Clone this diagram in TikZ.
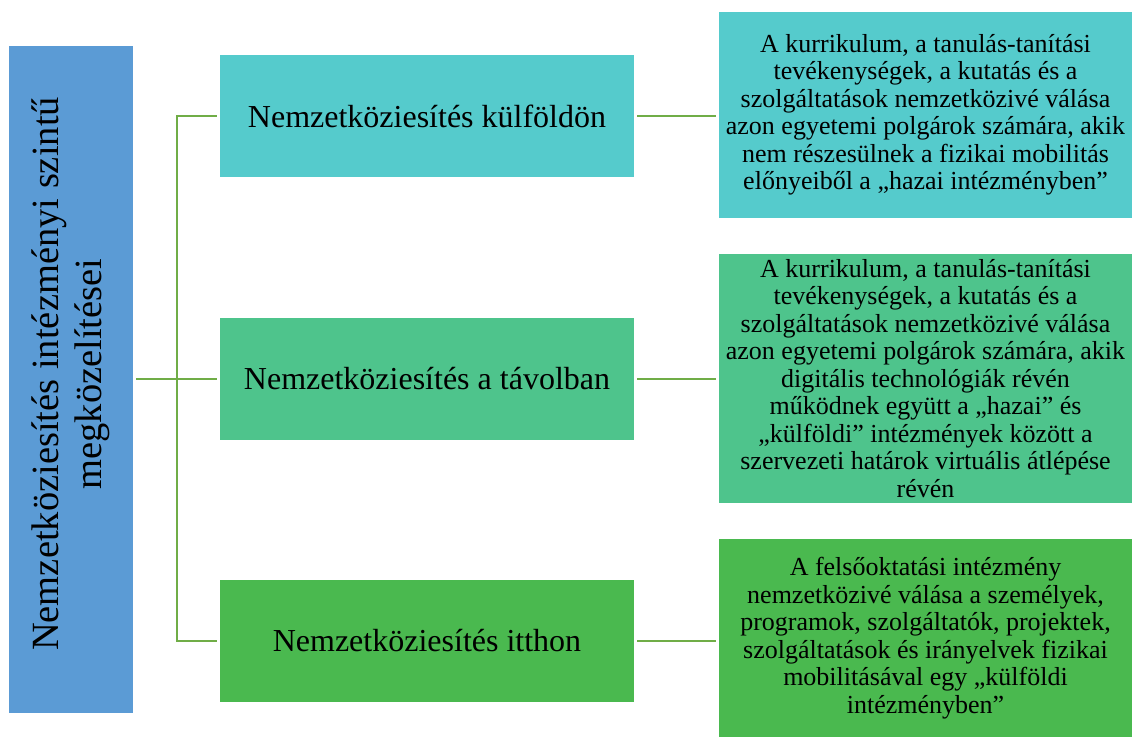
\documentclass[tikz,border=0pt]{standalone}
\usepackage{fontspec}
\setmainfont{Liberation Serif}
\begin{document}
\begin{tikzpicture}[x=1pt,y=-1pt,
  box/.style={draw=none,inner sep=0pt,align=center,text=black},
  mid/.style={box,minimum width=414pt,minimum height=122pt,font=\fontsize{32}{36}\selectfont},
  desc/.style={box,minimum width=413pt,font=\fontsize{26}{27.5}\selectfont},
  link/.style={draw=linkgreen,line width=1.4pt},
  linkb/.style={draw=linkgreen,line width=2.6pt}]
\definecolor{blueb}{HTML}{5B9BD5}
\definecolor{teal1}{HTML}{55CBCC}
\definecolor{green2}{HTML}{4EC48C}
\definecolor{green3}{HTML}{4AB94F}
\definecolor{linkgreen}{HTML}{70AD47}
\useasboundingbox (0,0) rectangle (1139,740);
\fill[white] (0,0) rectangle (1139,740);
\node[box,fill=blueb,minimum width=124pt,minimum height=667pt] (blue) at (71,379) {};
\node[rotate=90,align=center,font=\fontsize{38.5}{43}\selectfont] (bluet) at (71,374) {Nemzetköziesítés intézményi szintű\\megközelítései};
\node[mid,fill=teal1] (m1) at (427,116) {Nemzetköziesítés külföldön};
\node[mid,fill=green2] (m2) at (427,379) {Nemzetköziesítés a távolban};
\node[mid,fill=green3] (m3) at (427,641) {Nemzetköziesítés itthon};
\node[desc,fill=teal1,minimum height=206pt] (r1) at (925.5,115) {A kurrikulum, a tanulás-tanítási\\tevékenységek, a kutatás és a\\szolgáltatások nemzetközivé válása\\azon egyetemi polgárok számára, akik\\nem részesülnek a fizikai mobilitás\\előnyeiből a „hazai intézményben”};
\node[desc,fill=green2,minimum height=249pt] (r2) at (925.5,378.5) {A kurrikulum, a tanulás-tanítási\\tevékenységek, a kutatás és a\\szolgáltatások nemzetközivé válása\\azon egyetemi polgárok számára, akik\\digitális technológiák révén\\működnek együtt a „hazai” és\\„külföldi” intézmények között a\\szervezeti határok virtuális átlépése\\révén};
\node[desc,fill=green3,minimum height=198pt] (r3) at (925.5,638) {A felsőoktatási intézmény\\nemzetközivé válása a személyek,\\programok, szolgáltatók, projektek,\\szolgáltatások és irányelvek fizikai\\mobilitásával egy „külföldi\\intézményben”};
\coordinate (bus) at (177,379);
\draw[link] (blue.east) ++(3,0) -- (bus);
\draw[link] (m1.west) ++(-3,0) -- (m1.west -| bus) -- (m3.west -| bus) -- ([xshift=-3pt]m3.west);
\draw[link] (m2.west) ++(-3,0) -- (bus);
\draw[linkb,shorten <=3pt,shorten >=3pt] (m1.east) -- (m1.east -| r1.west);
\draw[linkb,shorten <=3pt,shorten >=3pt] (m2.east) -- (m2.east -| r2.west);
\draw[linkb,shorten <=3pt,shorten >=3pt] (m3.east) -- (m3.east -| r3.west);
\end{tikzpicture}
\end{document}
